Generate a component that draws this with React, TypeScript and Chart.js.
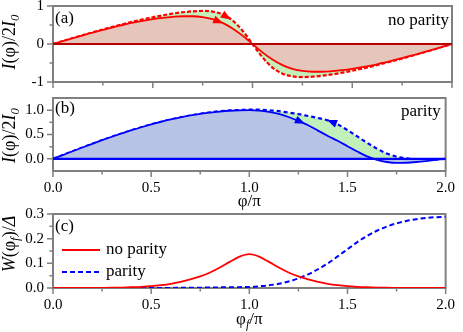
import React, { useEffect, useRef } from "react";
import { Chart, registerables } from "chart.js";

Chart.register(...registerables);

const FONT = '"Liberation Serif", "Times New Roman", serif';

// phase phi/pi
const phi = [0, 0.05, 0.1, 0.15, 0.2, 0.25, 0.3, 0.35, 0.4, 0.45, 0.5, 0.55, 0.6, 0.65, 0.7, 0.75, 0.8, 0.85, 0.9, 0.95, 1.0, 1.05, 1.1, 1.15, 1.2, 1.25, 1.3, 1.35, 1.4, 1.45, 1.5, 1.55, 1.6, 1.65, 1.7, 1.75, 1.8, 1.85, 1.9, 1.95, 2.0];

// (a) no parity: I(phi)/2I0
const aSolid = [0, 0.078, 0.155, 0.23, 0.30, 0.37, 0.44, 0.50, 0.56, 0.61, 0.655, 0.69, 0.715, 0.73, 0.73, 0.71, 0.655, 0.555, 0.41, 0.22, 0, -0.22, -0.41, -0.555, -0.655, -0.71, -0.73, -0.73, -0.715, -0.69, -0.655, -0.61, -0.56, -0.50, -0.44, -0.37, -0.30, -0.23, -0.155, -0.078, 0];
const aDashed = [0, 0.078, 0.156, 0.233, 0.309, 0.383, 0.454, 0.521, 0.587, 0.648, 0.705, 0.755, 0.80, 0.835, 0.86, 0.87, 0.85, 0.78, 0.62, 0.35, 0, -0.35, -0.62, -0.78, -0.85, -0.87, -0.86, -0.835, -0.80, -0.755, -0.705, -0.648, -0.587, -0.521, -0.454, -0.383, -0.309, -0.233, -0.156, -0.078, 0];

// (b) parity: I(phi)/2I0
const bSolid = [0, 0.078, 0.156, 0.233, 0.309, 0.383, 0.454, 0.522, 0.588, 0.649, 0.707, 0.76, 0.809, 0.853, 0.891, 0.924, 0.951, 0.972, 0.988, 0.997, 1.0, 0.99, 0.965, 0.925, 0.86, 0.78, 0.69, 0.58, 0.47, 0.37, 0.26, 0.15, 0.05, -0.02, -0.065, -0.085, -0.08, -0.065, -0.045, -0.022, 0];
const bDashed = [0, 0.078, 0.156, 0.233, 0.309, 0.383, 0.454, 0.522, 0.588, 0.649, 0.707, 0.76, 0.809, 0.853, 0.891, 0.926, 0.955, 0.978, 0.994, 1.004, 1.01, 1.01, 1.0, 0.98, 0.95, 0.92, 0.88, 0.84, 0.79, 0.71, 0.59, 0.46, 0.33, 0.21, 0.11, 0.045, 0.01, -0.015, -0.02, -0.012, 0];

// (c) W(phi_f)/Delta
const cNoParity = [0, 0, 0, 0.0001, 0.0003, 0.0006, 0.001, 0.0018, 0.003, 0.0048, 0.0075, 0.0115, 0.017, 0.025, 0.035, 0.047, 0.063, 0.083, 0.106, 0.127, 0.137, 0.127, 0.106, 0.083, 0.063, 0.047, 0.035, 0.025, 0.017, 0.0115, 0.0075, 0.0048, 0.003, 0.0018, 0.001, 0.0006, 0.0003, 0.0001, 0, 0, 0];
const cParity = [0, 0, 0, 0, 0, 0, 0, 0, 0, 0, 0, 0.0002, 0.0004, 0.0007, 0.001, 0.0014, 0.002, 0.0025, 0.003, 0.0035, 0.004, 0.007, 0.011, 0.017, 0.026, 0.039, 0.055, 0.076, 0.10, 0.128, 0.157, 0.186, 0.211, 0.232, 0.249, 0.262, 0.272, 0.279, 0.284, 0.287, 0.289];

const zeroX = [0, 2];
const zeroY = [0, 0];

const xTicks = [0, 0.5, 1, 1.5, 2];
const xTickLabels = ["0.0", "0.5", "1.0", "1.5", "2.0"];
const xMinorTicks = [0.25, 0.75, 1.25, 1.75];

const aYTicks = [-1, 0, 1];
const aYTickLabels = ["-1", "0", "1"];
const aYMinorTicks = [-0.5, 0.5];

const bYTicks = [0, 0.5, 1];
const bYTickLabels = ["0.0", "0.5", "1.0"];
const bYMinorTicks = [0.25, 0.75];

const cYTicks = [0, 0.1, 0.2, 0.3];
const cYTickLabels = ["0.0", "0.1", "0.2", "0.3"];
const cYMinorTicks = [0.05, 0.15, 0.25];

// arrow markers: dataset index, phi position, direction
const aArrows = [{ ds: 1, at: 0.83, dir: 1 }, { ds: 2, at: 0.87, dir: 1 }];
const bArrows = [{ ds: 1, at: 1.26, dir: 1 }, { ds: 2, at: 1.42, dir: -1 }];

// region fills (average tone of the dotted shading)
const FILL_GREEN = "#c2f0ba";
const FILL_RED = "#e6c6ba";
const FILL_BLUE = "#b8c4e6";

type Seg = { t: string; it?: boolean; sub?: boolean };
type Area = { left: number; right: number; top: number; bottom: number };
type TextItem = {
  segs: Seg[];
  size: number;
  x: (a: Area) => number;
  y: (a: Area) => number;
  rot?: boolean;
  align?: "left" | "center" | "right";
  baseline?: CanvasTextBaseline;
};

const pts = (xs: number[], ys: number[]) => xs.map((x, i) => ({ x, y: ys[i] }));

function drawRich(ctx: CanvasRenderingContext2D, item: TextItem, area: Area) {
  const fontFor = (s: Seg) =>
    `${s.it ? "italic " : ""}${s.sub ? Math.round(item.size * 0.7) : item.size}px ${FONT}`;
  let total = 0;
  const widths = item.segs.map((s) => {
    ctx.font = fontFor(s);
    const w = ctx.measureText(s.t).width;
    total += w;
    return w;
  });
  ctx.save();
  ctx.translate(item.x(area), item.y(area));
  if (item.rot) ctx.rotate(-Math.PI / 2);
  let cx = item.align === "left" ? 0 : item.align === "right" ? -total : -total / 2;
  ctx.textBaseline = item.baseline ?? "middle";
  ctx.textAlign = "left";
  ctx.fillStyle = "#000";
  item.segs.forEach((s, i) => {
    ctx.font = fontFor(s);
    ctx.fillText(s.t, cx, s.sub ? item.size * 0.3 : 0);
    cx += widths[i];
  });
  ctx.restore();
}

type Spec = {
  datasets: any[];
  yMin: number;
  yMax: number;
  yTicks: number[];
  yLabels: string[];
  yMinor: number[];
  showXLabels: boolean;
  padTop: number;
  xAxisHeight: number;
  texts: TextItem[];
  arrows: { ds: number; at: number; dir: number }[];
  legend: boolean;
};

function buildConfig(spec: Spec): any {
  const framePlugin = {
    id: "frameTicks",
    beforeDatasetsDraw(chart: any) {
      const { ctx, chartArea } = chart;
      const { left, top, right, bottom } = chartArea;
      const xs = chart.scales.x;
      const ys = chart.scales.y;
      ctx.save();
      ctx.strokeStyle = "#808080";
      ctx.lineWidth = 2;
      ctx.strokeRect(left, top, right - left, bottom - top);
      ctx.lineWidth = 1.5;
      ctx.beginPath();
      for (const v of xTicks) {
        const p = xs.getPixelForValue(v);
        ctx.moveTo(p, bottom);
        ctx.lineTo(p, bottom + 6);
      }
      for (const v of xMinorTicks) {
        const p = xs.getPixelForValue(v);
        ctx.moveTo(p, bottom);
        ctx.lineTo(p, bottom + 3.5);
      }
      for (const v of spec.yTicks) {
        const p = ys.getPixelForValue(v);
        ctx.moveTo(left, p);
        ctx.lineTo(left - 6, p);
      }
      for (const v of spec.yMinor) {
        const p = ys.getPixelForValue(v);
        ctx.moveTo(left, p);
        ctx.lineTo(left - 3.5, p);
      }
      ctx.stroke();
      ctx.restore();
    },
  };

  const arrowPlugin = {
    id: "arrows",
    afterDatasetsDraw(chart: any) {
      const { ctx } = chart;
      const xs = chart.scales.x;
      const ys = chart.scales.y;
      for (const a of spec.arrows) {
        const ds = chart.data.datasets[a.ds];
        const data = ds.data as { x: number; y: number }[];
        const yAt = (xv: number) => {
          for (let i = 0; i < data.length - 1; i++) {
            if (xv >= data[i].x && xv <= data[i + 1].x) {
              const t = (xv - data[i].x) / (data[i + 1].x - data[i].x);
              return data[i].y + t * (data[i + 1].y - data[i].y);
            }
          }
          return data[data.length - 1].y;
        };
        const px = xs.getPixelForValue(a.at);
        const py = ys.getPixelForValue(yAt(a.at));
        const qx = xs.getPixelForValue(a.at + 0.02 * a.dir);
        const qy = ys.getPixelForValue(yAt(a.at + 0.02 * a.dir));
        const ang = Math.atan2(qy - py, qx - px);
        ctx.save();
        ctx.translate(px, py);
        ctx.rotate(ang);
        ctx.fillStyle = ds.borderColor;
        ctx.beginPath();
        ctx.moveTo(5, 0);
        ctx.lineTo(-5, -4);
        ctx.lineTo(-5, 4);
        ctx.closePath();
        ctx.fill();
        ctx.restore();
      }
    },
  };

  const textPlugin = {
    id: "richTexts",
    afterDraw(chart: any) {
      const { ctx, chartArea } = chart;
      for (const t of spec.texts) drawRich(ctx, t, chartArea);
      if (spec.legend) {
        const { left, top } = chartArea;
        chart.data.datasets.forEach((ds: any, i: number) => {
          const y = top + 36 + i * 22;
          ctx.save();
          ctx.strokeStyle = ds.borderColor;
          ctx.lineWidth = ds.borderWidth;
          ctx.setLineDash(ds.borderDash || []);
          ctx.beginPath();
          ctx.moveTo(left + 9, y);
          ctx.lineTo(left + 47, y);
          ctx.stroke();
          ctx.restore();
          drawRich(
            ctx,
            { segs: [{ t: ds.label }], size: 17, x: (a) => a.left + 53, y: () => y, align: "left" },
            chartArea
          );
        });
      }
    },
  };

  return {
    type: "line",
    data: { datasets: spec.datasets },
    plugins: [framePlugin, arrowPlugin, textPlugin],
    options: {
      animation: false,
      responsive: false,
      maintainAspectRatio: false,
      layout: { padding: { top: spec.padTop, right: 11, bottom: 0, left: 0 } },
      elements: { point: { radius: 0 } },
      plugins: { legend: { display: false }, tooltip: { enabled: false } },
      scales: {
        x: {
          type: "linear",
          min: 0,
          max: 2,
          grid: { display: false, drawTicks: false },
          border: { display: false },
          afterBuildTicks: (s: any) => {
            s.ticks = xTicks.map((v) => ({ value: v }));
          },
          afterFit: (s: any) => {
            s.height = spec.xAxisHeight;
          },
          ticks: {
            display: spec.showXLabels,
            autoSkip: false,
            maxRotation: 0,
            padding: 8,
            color: "#000",
            font: { family: FONT, size: 15 },
            callback: (_v: any, i: number) => xTickLabels[i],
          },
        },
        y: {
          type: "linear",
          min: spec.yMin,
          max: spec.yMax,
          grid: { display: false, drawTicks: false },
          border: { display: false },
          afterBuildTicks: (s: any) => {
            s.ticks = spec.yTicks.map((v) => ({ value: v }));
          },
          afterFit: (s: any) => {
            s.width = 53;
          },
          ticks: {
            autoSkip: false,
            padding: 9,
            color: "#000",
            font: { family: FONT, size: 15 },
            callback: (_v: any, i: number) => spec.yLabels[i],
          },
        },
      },
    },
  };
}

const line = (xs: number[], ys: number[], extra: any) => ({
  data: pts(xs, ys),
  pointRadius: 0,
  cubicInterpolationMode: "monotone",
  fill: false,
  ...extra,
});

function specA(): Spec {
  return {
    datasets: [
      line(zeroX, zeroY, { borderColor: "#b80000", borderWidth: 2.2 }),
      line(phi, aSolid, { borderColor: "#ff0000", borderWidth: 1.8, fill: "origin", backgroundColor: FILL_RED }),
      line(phi, aDashed, { borderColor: "#ff0000", borderWidth: 2.2, borderDash: [4, 2], fill: "origin", backgroundColor: FILL_GREEN }),
    ],
    yMin: -1,
    yMax: 1,
    yTicks: aYTicks,
    yLabels: aYTickLabels,
    yMinor: aYMinorTicks,
    showXLabels: false,
    padTop: 26,
    xAxisHeight: 14,
    arrows: aArrows,
    legend: false,
    texts: [
      { segs: [{ t: "I", it: true }, { t: "(φ)/2" }, { t: "I", it: true }, { t: "0", it: true, sub: true }], size: 18, rot: true, x: () => 10, y: (a) => (a.top + a.bottom) / 2 - 2 },
      { segs: [{ t: "(a)" }], size: 17, align: "left", x: (a) => a.left + 2, y: (a) => a.top + 12.5 },
      { segs: [{ t: "no parity" }], size: 17, align: "right", baseline: "alphabetic", x: (a) => a.right - 3, y: (a) => a.top + 19 },
    ],
  };
}

function specB(): Spec {
  return {
    datasets: [
      line(zeroX, zeroY, { borderColor: "#0000ff", borderWidth: 2.2 }),
      line(phi, bSolid, { borderColor: "#0000ff", borderWidth: 1.8, fill: "origin", backgroundColor: FILL_BLUE }),
      line(phi, bDashed, { borderColor: "#0000ff", borderWidth: 2.2, borderDash: [4, 3], fill: "origin", backgroundColor: FILL_GREEN }),
    ],
    yMin: -0.25,
    yMax: 1.25,
    yTicks: bYTicks,
    yLabels: bYTickLabels,
    yMinor: bYMinorTicks,
    showXLabels: true,
    padTop: 14,
    xAxisHeight: 39,
    arrows: bArrows,
    legend: false,
    texts: [
      { segs: [{ t: "I", it: true }, { t: "(φ)/2" }, { t: "I", it: true }, { t: "0", it: true, sub: true }], size: 18, rot: true, x: () => 10, y: (a) => (a.top + a.bottom) / 2 + 1 },
      { segs: [{ t: "(b)" }], size: 17, align: "left", x: (a) => a.left + 2, y: (a) => a.top + 11 },
      { segs: [{ t: "parity" }], size: 17, align: "right", baseline: "alphabetic", x: (a) => a.right - 5, y: (a) => a.top + 18 },
      { segs: [{ t: "φ/π" }], size: 17, x: (a) => (a.left + a.right) / 2, y: (a) => a.bottom + 31 },
    ],
  };
}

function specC(): Spec {
  return {
    datasets: [
      line(phi, cNoParity, { label: "no parity", borderColor: "#ff0000", borderWidth: 1.8 }),
      line(phi, cParity, { label: "parity", borderColor: "#0000ff", borderWidth: 2, borderDash: [5, 3] }),
    ],
    yMin: 0,
    yMax: 0.3,
    yTicks: cYTicks,
    yLabels: cYTickLabels,
    yMinor: cYMinorTicks,
    showXLabels: true,
    padTop: 15,
    xAxisHeight: 44,
    arrows: [],
    legend: true,
    texts: [
      { segs: [{ t: "W", it: true }, { t: "(φ" }, { t: "f", it: true, sub: true }, { t: ")/" }, { t: "Δ", it: true }], size: 18, rot: true, x: () => 10, y: (a) => (a.top + a.bottom) / 2 - 7 },
      { segs: [{ t: "(c)" }], size: 17, align: "left", x: (a) => a.left + 2, y: (a) => a.top + 12.5 },
      { segs: [{ t: "φ" }, { t: "f", it: true, sub: true }, { t: "/π" }], size: 17, x: (a) => (a.left + a.right) / 2, y: (a) => a.bottom + 32 },
    ],
  };
}

function Panel({ make, top, height }: { make: () => Spec; top: number; height: number }) {
  const ref = useRef<HTMLCanvasElement>(null);
  useEffect(() => {
    const chart = new Chart(ref.current!, buildConfig(make()));
    let alive = true;
    const fonts: any = (document as any).fonts;
    if (fonts && fonts.load) {
      Promise.all([
        fonts.load('15px "Liberation Serif"'),
        fonts.load('italic 15px "Liberation Serif"'),
      ])
        .then(() => fonts.ready)
        .then(() => {
          if (alive) chart.update();
        })
        .catch(() => {});
    }
    return () => {
      alive = false;
      chart.destroy();
    };
  }, []);
  return (
    <canvas
      ref={ref}
      width={463}
      height={height}
      style={{ position: "absolute", left: 0, top, width: 463, height }}
    />
  );
}

export default function App() {
  return (
    <div style={{ position: "fixed", left: 0, top: 0, width: 463, height: 332, background: "#fff", overflow: "hidden" }}>
      <Panel make={specA} top={-20} height={120} />
      <Panel make={specB} top={80} height={130} />
      <Panel make={specC} top={196} height={136} />
    </div>
  );
}
